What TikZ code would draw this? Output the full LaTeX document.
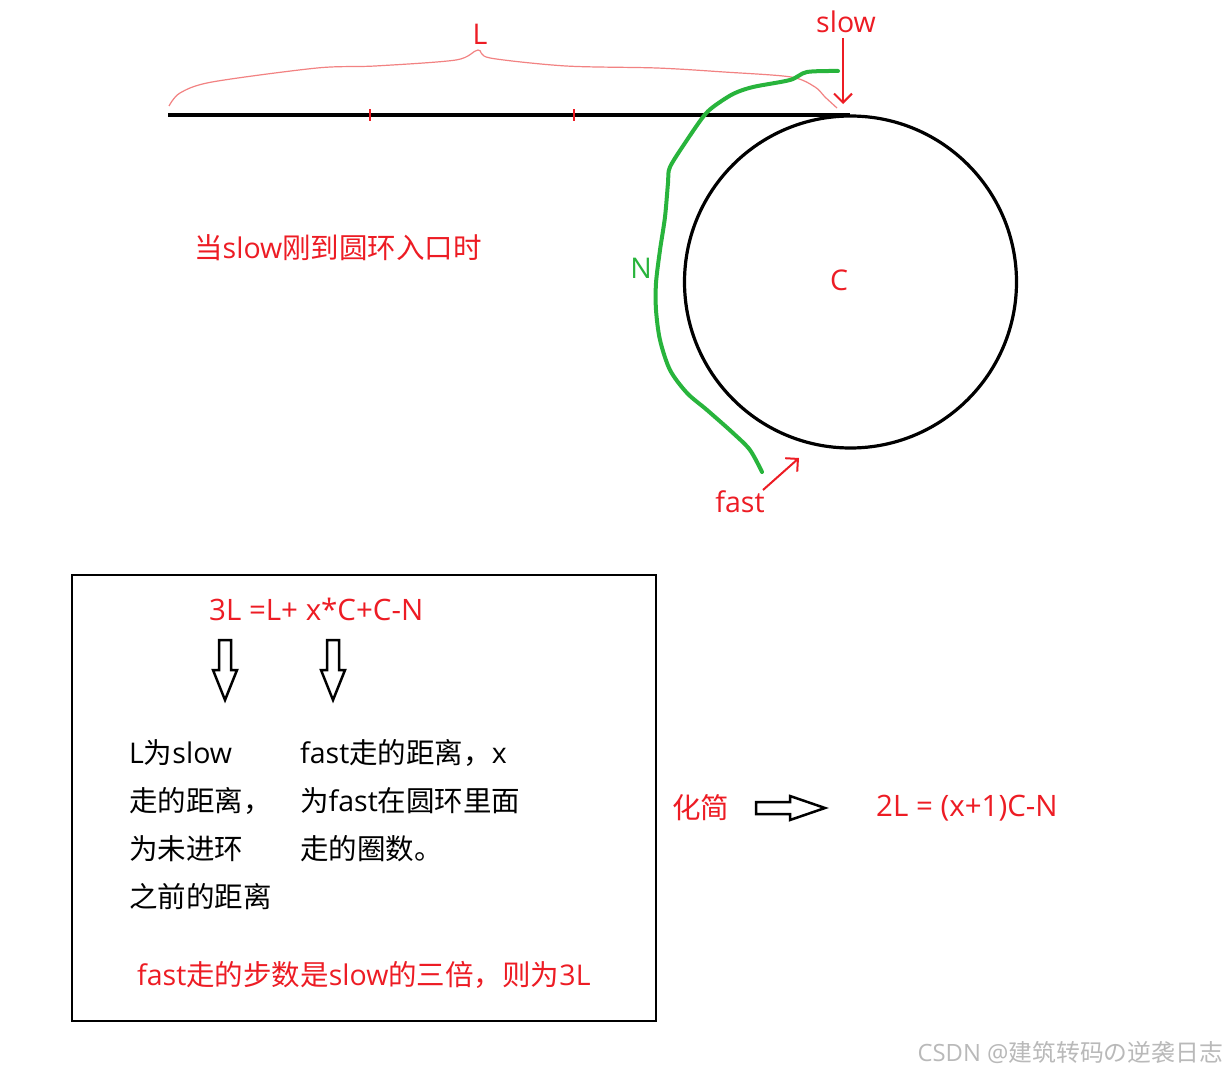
\documentclass[tikz,border=0pt]{standalone}
\usepackage{fontspec}
\setmainfont{Noto Sans CJK SC}
\newfontfamily\lat{Open Sans}
\usetikzlibrary{arrows.meta}
\definecolor{pred}{RGB}{237,28,36}
\definecolor{pbrace}{RGB}{242,130,130}
\definecolor{pgreen}{RGB}{40,180,60}
\definecolor{wmark}{RGB}{185,185,185}
\begin{document}
\begin{tikzpicture}[x=1pt,y=-1pt,
  txt/.style={inner sep=0pt, font=\fontsize{28.5}{33}\selectfont},
  redtxt/.style={txt, text=pred},
  eqtxt/.style={inner sep=0pt, text=pred, anchor=west, font=\fontsize{29.5}{34}\selectfont\lat},
  blktxt/.style={txt, text=black, anchor=west},
  hollow/.style={draw=black, line width=2.5pt, fill=white, line join=miter},
  redarrow/.style={pred, line width=2pt, -{Straight Barb[length=9pt,width=18pt,line width=2pt]}}
]
\useasboundingbox (0,0) rectangle (1226,1073);
\fill[white] (0,0) rectangle (1226,1073);

% straight path and ring
\draw[line width=3.2pt] (168,115) -- (850,115);
\draw[line width=3.2pt] (850.5,282) circle (166);
\draw[pred, line width=2pt] (370,109) -- (370,121);
\draw[pred, line width=2pt] (574,109) -- (574,121);

% brace L
\draw[pbrace, line width=1.2pt] plot[smooth, tension=0.5] coordinates {(169,106) (180,93) (212,82) (317,68) (375,66) (456,60) (478,50) (490,58) (566,66) (657,68) (724,72) (791,77) (815,87) (825,97) (837,108)};
\node[redtxt] (L) at (480,34) {\lat L};

% green path N
\draw[pgreen, line width=4pt, line cap=round] plot[smooth, tension=0.5] coordinates {(838,71) (807,72) (790,80) (753,87) (733,94) (713,107) (703,117) (687,140) (670,167) (668,183) (665,217) (660,250) (656,283) (656,310) (660,340) (670,370) (687,393) (707,410) (733,433) (750,450) (762,472)};
\node[txt, text=pgreen] (N) at (641,268) {\lat N};
\node[redtxt] (C) at (839,280) {\lat C};

% slow / fast
\node[redtxt] (slow) at (846,22) {\lat slow};
\coordinate (slowtip) at (843,104);
\draw[redarrow] (slow.south -| slowtip) ++(0,5) -- (slowtip);
\node[redtxt] (fast) at (740,502) {\lat fast};
\coordinate (fastfrom) at (763,490);
\coordinate (fasttip) at (799,458);
\draw[redarrow] (fastfrom) -- (fasttip);

\node[redtxt, anchor=west] (when) at (194,248) {当{\lat slow}刚到圆环入口时};

% box
\draw[line width=2.5pt] (72,575) rectangle (656,1021);
\node[eqtxt] (eq) at (209,609) {3L =L+ x*C+C-N};
\draw[hollow] (219,640) -- (231,640) -- (231,670) -- (237,670) -- (225,700) -- (213,670) -- (219,670) -- cycle;
\draw[hollow] (327,640) -- (339,640) -- (339,670) -- (345,670) -- (333,700) -- (321,670) -- (327,670) -- cycle;

\node[blktxt] (a1) at (129,753) {{\lat L}为{\lat slow}};
\node[blktxt] (a2) at (129,801) {走的距离，};
\node[blktxt] (a3) at (129,849) {为未进环};
\node[blktxt] (a4) at (129,897) {之前的距离};
\node[blktxt] (b1) at (300,753) {{\lat fast}走的距离，{\lat x}};
\node[blktxt] (b2) at (300,801) {为{\lat fast}在圆环里面};
\node[blktxt] (b3) at (300,849) {走的圈数。};
\node[redtxt, anchor=west] (three) at (137,975) {{\lat fast}走的步数是{\lat slow}的三倍，则为{\lat 3L}};

% simplification
\node[redtxt, anchor=west] (simp) at (672,808) {化简};
\draw[hollow] (756,802) -- (790,802) -- (790,796) -- (825,808) -- (790,820) -- (790,814) -- (756,814) -- cycle;
\node[eqtxt] (res) at (876,808) {2L = (x+1)C-N};

\node[inner sep=0pt, anchor=east, text=wmark, font=\fontsize{23.8}{28}\selectfont] (wm) at (1223,1053) {{\lat CSDN @}建筑转码の逆袭日志};
\end{tikzpicture}
\end{document}
